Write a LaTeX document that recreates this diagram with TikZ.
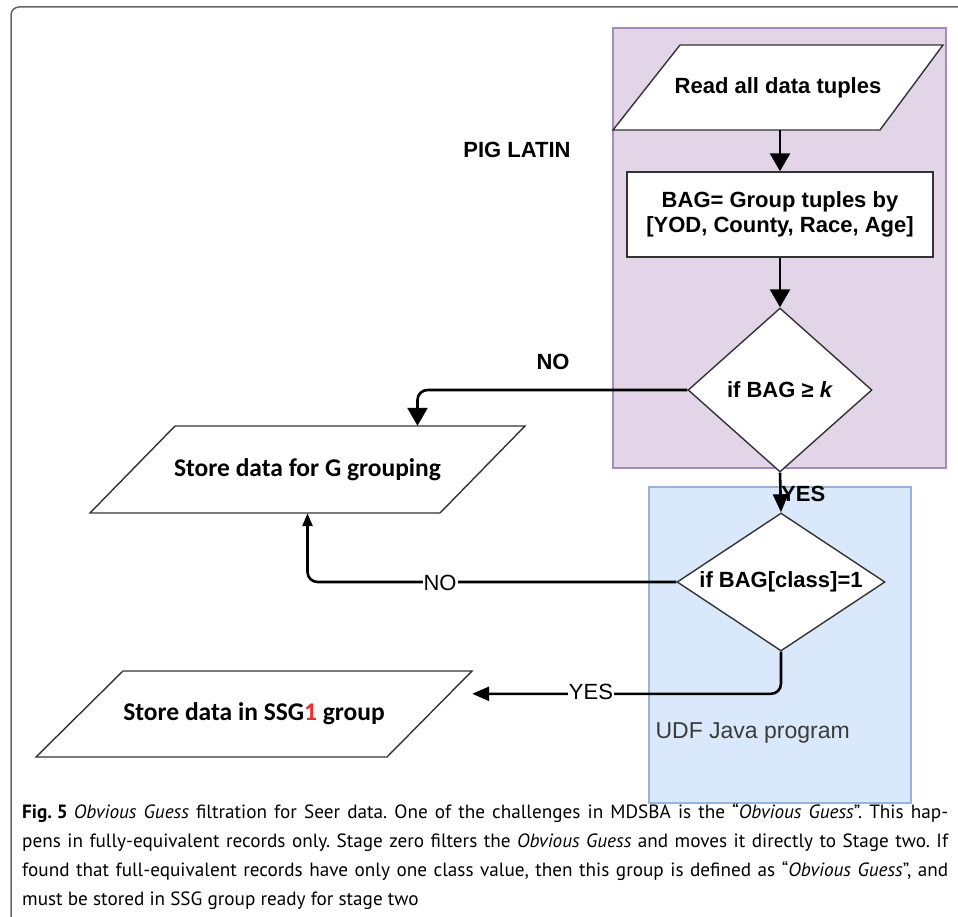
\documentclass[tikz,border=0pt]{standalone}
\usepackage{fontspec}
\setmainfont{Liberation Sans}
\newfontfamily\calfont{Carlito}
\newfontfamily\capfont{PT Sans}
\usetikzlibrary{shapes.geometric,arrows.meta,calc}
\definecolor{purpfill}{HTML}{E1D5E7}
\definecolor{purpline}{HTML}{A58BBB}
\definecolor{bluefill}{HTML}{DAE8FC}
\definecolor{blueline}{HTML}{9AB3DA}
\definecolor{shapeline}{HTML}{333333}
\definecolor{framegray}{HTML}{666666}
\definecolor{redone}{HTML}{E8302C}
\definecolor{udfgray}{HTML}{3A3A3A}
\frenchspacing
\begin{document}
\begin{tikzpicture}[x=1pt,y=-1pt,
  conn/.style={line width=2.6pt, black, rounded corners=10pt},
  bigtip/.style={-{Triangle[length=18pt,width=20pt]}},
  midtip/.style={-{Triangle[length=17pt,width=14pt]}},
  smalltip/.style={-{Triangle[length=13pt,width=10pt]}},
  shapebox/.style={draw=shapeline, line width=1.4pt, fill=white, inner sep=0pt},
  textbox/.style={inner sep=0pt},
  dia/.style={shapebox, diamond},
  lblfont/.style={font=\fontsize{22}{26}\selectfont\bfseries},
  plainlbl/.style={font=\fontsize{22}{26}\selectfont, fill=white, inner sep=1pt},
  calfnt/.style={font=\calfont\bfseries\fontsize{25.5}{30}\selectfont},
  capline/.style={anchor=base west, inner sep=0pt, font=\capfont\fontsize{19.2}{29}\selectfont}
]
\useasboundingbox (0,0) rectangle (958,917);
\fill[white] (0,0) rectangle (958,917);
% outer frame
\draw[framegray, line width=1.5pt, rounded corners=8pt] (960,7) -- (11,7) -- (11,920);
% containers
\node[draw=purpline, fill=purpfill, line width=2pt, minimum width=333pt, minimum height=440pt, inner sep=0pt, anchor=north west] (pig) at (612,27) {};
\node[draw=blueline, fill=bluefill, line width=1.5pt, minimum width=262pt, minimum height=316pt, inner sep=0pt, anchor=north west] (udfbox) at (648,486) {};
% parallelogram outlines
\path[shapebox] (680,45) -- (943,45) -- (880,130) -- (613,130) -- cycle;
\path[shapebox] (175,426) -- (525,426) -- (440,513) -- (90,513) -- cycle;
\path[shapebox] (123,671) -- (472,671) -- (387,757) -- (36,757) -- cycle;
% shapes
\node[textbox, minimum width=330pt, minimum height=85pt, lblfont] (read) at (778,87.5) {Read all data tuples};
\node[shapebox, minimum width=306pt, minimum height=85pt, align=center, font=\fontsize{22}{25}\selectfont\bfseries] (bag) at (780,214.5) {BAG= Group tuples by\\ {[YOD, County, Race, Age]}};
\node[dia, aspect=1.12, minimum width=184pt, minimum height=164pt, lblfont] (d1) at (780,390) {if BAG ≥ \textit{k}};
\node[dia, aspect=1.5, minimum width=208pt, minimum height=138pt, lblfont] (d2) at (781,582) {if BAG[class]=1};
\node[textbox, minimum width=435pt, minimum height=87pt, calfnt] (sg) at (307.5,469.5) {Store data for G grouping};
\node[textbox, minimum width=436pt, minimum height=86pt, calfnt] (ss) at (254,714) {Store data in SSG\textcolor{redone}{1} group};
% labels
\node[lblfont] (pl) at (517,150) {PIG LATIN};
\node[anchor=west, text=udfgray, font=\fontsize{23}{27}\selectfont] (udf) at (652,733) {UDF Java program};
\node[lblfont] (no1) at (553,362) {NO};
\node[lblfont, anchor=west, inner sep=0pt] (yes1) at (781,494) {YES};
% connectors
\draw[conn, bigtip] (read.south -| bag.north) -- (bag.north);
\draw[conn, bigtip] (bag.south) -- (d1.north);
\draw[conn, -{Triangle[length=18pt,width=15pt]}] (d1.south) -- (d2.north);
\draw[conn, bigtip] (d1.west) -| ([xshift=110pt]sg.north);
\draw[conn, smalltip] (d2.west) -| (sg.south);
\draw[conn, midtip] (d2.south) |- ([yshift=-23pt]ss.north east);
\node[plainlbl] (no2) at (440,583) {NO};
\node[plainlbl] (yes2) at (591,692) {YES};
% caption
\node[capline] (cap1) at (22,818) {\makebox[926pt][s]{\textbf{\mbox{Fig. 5}}\hspace{6pt}\textit{Obvious Guess} filtration for Seer data. One of the challenges in MDSBA is the “\textit{Obvious Guess}”. This hap-}};
\node[capline] (cap2) at (22,847) {\makebox[926pt][s]{pens in fully-equivalent records only. Stage zero filters the \textit{Obvious Guess} and moves it directly to Stage two. If}};
\node[capline] (cap3) at (22,876) {\makebox[926pt][s]{found that full-equivalent records have only one class value, then this group is defined as “\textit{Obvious Guess}”, and}};
\node[capline] (cap4) at (22,905) {must be stored in SSG group ready for stage two};
\end{tikzpicture}
\end{document}
